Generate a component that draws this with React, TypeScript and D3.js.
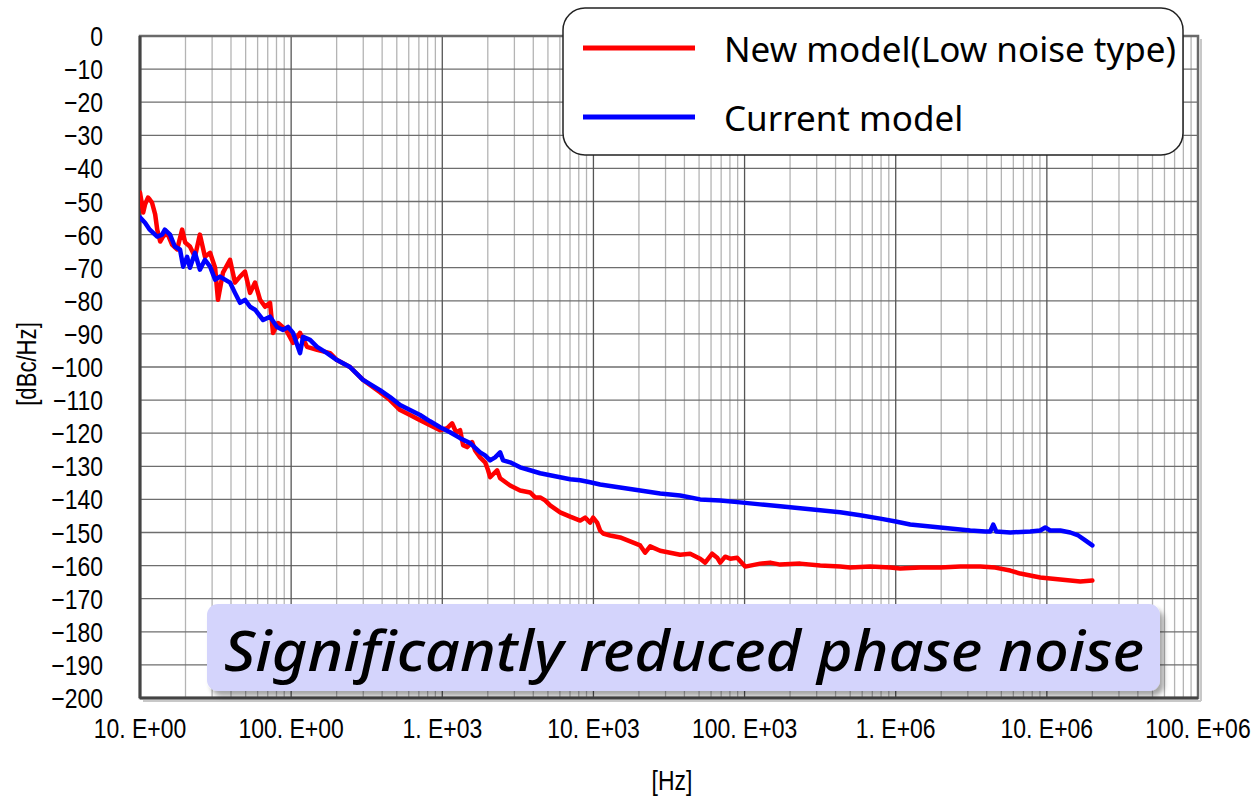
import React from 'react';
import * as d3 from 'd3';

// New model (Low noise type) - red trace
const newModelFreq = [
  10, 10.3, 10.5, 10.8, 11.3, 11.6, 12.0, 12.6, 13.0, 13.6, 14.2, 15.1, 16.3, 17.6, 19.0, 19.9,
  21.4, 23.1, 24.9, 26.9, 29.1, 31.4, 32.8, 35.4, 39.4, 42.5, 45.9, 49.5, 53.5, 57.7, 62.3, 67.2,
  72.5, 75.9, 81.9, 92.5, 103, 114.5, 127.4, 148.4, 180.9, 201, 245, 299, 387, 451,
  526, 612, 713, 830, 967, 1076, 1161, 1234, 1312, 1373, 1459, 1575, 1649, 1779, 1920, 2010,
  2072, 2169, 2306, 2413, 2810, 3272, 3812, 4114, 4440, 4791, 5170, 6020, 7015, 8170, 8815, 9510,
  9955, 10580, 11070, 11590, 12900, 15020, 17500, 20380, 21990, 23730, 27640, 32190, 37480, 43650,
  50840, 54870, 61060, 65890, 68970, 74400, 80300, 89330, 100900, 108900, 126800, 147700, 172000,
  233300, 316500, 429300, 500000, 678300, 919700, 1.071e6, 1.453e6, 1.97e6, 2.673e6, 3.625e6,
  4.555e6, 5.724e6, 6.668e6, 7.766e6, 9.045e6, 1.053e7, 1.227e7, 1.429e7, 1.664e7, 2e7,
];
const newModelDb = [
  -47.3, -50.9, -53.3, -50.9, -48.8, -49.4, -50.3, -53.9, -58.5, -62.1, -60.6, -59.4, -63.0, -64.5, -58.5, -62.4,
  -63.6, -66.7, -60.0, -66.7, -65.5, -70.0, -79.7, -71.5, -67.6, -74.5, -72.7, -71.2, -77.6, -74.5, -79.7, -81.8,
  -80.6, -89.7, -86.7, -88.8, -92.7, -89.7, -93.9, -94.8, -95.8, -97.9, -100, -103.9, -107.6, -110,
  -113, -114.5, -116.1, -117.6, -119.1, -118.5, -117, -119.7, -119.1, -123.6, -124.2, -122.7, -125.2, -127.3, -128.8, -131.2,
  -133.3, -132.4, -131.2, -133.6, -135.8, -137.3, -137.9, -139.4, -139.4, -140.3, -141.8, -143.9, -145.2, -146.4, -145.5, -147,
  -145.5, -147, -149.4, -150.3, -150.9, -151.5, -152.7, -153.9, -156.1, -154.2, -155.5, -156.1, -156.7, -156.4,
  -157.9, -159.1, -156.4, -157.6, -159.1, -157.3, -157.9, -157.6, -160.3, -160, -159.4, -159.1, -159.7,
  -159.4, -160, -160.3, -160.6, -160.3, -160.6, -160.9, -160.6, -160.6, -160.3, -160.3,
  -160.6, -161.5, -162.4, -163, -163.6, -163.9, -164.2, -164.5, -164.8, -164.5,
];

// Current model - blue trace
const currentModelFreq = [
  10, 10.8, 11.6, 13.0, 14.0, 14.6, 15.8, 17.0, 18.4, 19.3, 20.5, 21.4, 23.1, 24.9, 26.9, 29.1,
  31.4, 33.8, 36.5, 39.4, 42.5, 45.9, 49.5, 53.5, 57.7, 65.2, 72.5, 80.7, 88.4, 95.4, 103, 114.5,
  119.9, 133.4, 148.4, 172.8, 201, 245, 299, 387, 451, 526, 612, 713, 830, 967,
  1126, 1312, 1528, 1779, 1920, 2072, 2236, 2413, 2526, 2810, 3272, 3812, 4440, 5170, 6020, 7015,
  8170, 9510, 11070, 15020, 20380, 27640, 37480, 50840, 68970, 93520, 126800, 172000, 233300, 316500,
  429300, 582300, 789800, 1.0e6, 1.247e6, 1.692e6, 2.295e6, 3.112e6, 3.912e6, 4.222e6, 4.419e6, 4.627e6,
  5.724e6, 7.766e6, 9.045e6, 9.759e6, 1.053e7, 1.227e7, 1.429e7, 1.614e7, 1.796e7, 2e7,
];
const currentModelDb = [
  -54.8, -56.4, -58.5, -60.6, -60, -58.5, -60, -63.6, -64.5, -69.7, -66.7, -70, -65.5, -70.6, -67.6, -69.7,
  -73.6, -72.7, -73.6, -74.5, -77.6, -80.6, -79.7, -81.8, -82.7, -85.8, -84.8, -87.9, -88.8, -87.9, -89.7, -95.8,
  -90.9, -91.8, -93.9, -95.8, -97.9, -100, -103.9, -107, -109.1, -111.5, -113, -114.5, -116.4, -118.2,
  -119.7, -121.5, -123, -125.8, -126.7, -128.2, -127.3, -125.8, -128.2, -128.8, -130.3, -131.2, -132.1, -132.7, -133.3, -133.9,
  -134.2, -134.8, -135.5, -136.4, -137.3, -138.2, -138.8, -140, -140.3, -140.9, -141.5, -142.1, -142.7, -143.3,
  -143.9, -144.8, -145.8, -146.7, -147.6, -148.2, -148.8, -149.4, -149.7, -149.7, -147.6, -149.7,
  -150, -149.7, -149.4, -148.5, -149.4, -149.4, -150, -150.9, -152.4, -153.9,
];

const xTickValues = [1e1, 1e2, 1e3, 1e4, 1e5, 1e6, 1e7, 1e8];
const xTickLabels = ['10. E+00', '100. E+00', '1. E+03', '10. E+03', '100. E+03', '1. E+06', '10. E+06', '100. E+06'];
const yTickValues = d3.range(-200, 1, 10);

const seriesNames = ['New model(Low noise type)', 'Current model'];
const seriesColors = ['#ff0000', '#0000ff'];

const W = 1255, H = 797;
const margin = { top: 36, right: 57, bottom: 99, left: 140 };
const axisFont = "'Liberation Sans', Arial, sans-serif";
const labelFont = "'Noto Sans', 'Open Sans', sans-serif";

// narrow glyphs like the original gothic font: horizontally squeezed text
function Narrow({ x, y, anchor, size, rotate, children }: any) {
  const t = `translate(${x},${y})` + (rotate ? ` rotate(${rotate})` : '') + ' scale(0.82,1)';
  return (
    <text transform={t} textAnchor={anchor} fontFamily={axisFont} fontSize={size} fill="#000">
      {children}
    </text>
  );
}

export default function App() {
  const x = d3.scaleLog().domain([10, 1e8]).range([margin.left, W - margin.right]);
  const y = d3.scaleLinear().domain([-200, 0]).range([H - margin.bottom, margin.top]);
  const x0 = x.range()[0], x1 = x.range()[1];
  const y0 = y.range()[1], y1 = y.range()[0];

  const line = d3.line<[number, number]>()
    .x(d => x(d[0]))
    .y(d => y(d[1]));

  const redPts = newModelFreq.map((f, i) => [f, newModelDb[i]] as [number, number]);
  const bluePts = currentModelFreq.map((f, i) => [f, currentModelDb[i]] as [number, number]);

  const minorTicks = x.ticks().filter(t => !xTickValues.includes(t));

  return (
    <svg width={W} height={H} style={{ position: 'absolute', left: 0, top: 0, background: '#fff' }}>
      <defs>
        <filter id="shadow" x="-5%" y="-20%" width="115%" height="150%">
          <feDropShadow dx="4" dy="5" stdDeviation="2.5" floodColor="#000" floodOpacity="0.35" />
        </filter>
        <clipPath id="plotclip">
          <rect x={x0} y={y0} width={x1 - x0} height={y1 - y0} />
        </clipPath>
      </defs>

      {/* grid */}
      <g>
        {minorTicks.map(t => (
          <line key={'m' + t} x1={x(t)} x2={x(t)} y1={y0} y2={y1} stroke="#b4b4b4" strokeWidth={1.3} />
        ))}
        {yTickValues.map(v => (
          <line key={'h' + v} x1={x0} x2={x1} y1={y(v)} y2={y(v)} stroke="#6e6e6e" strokeWidth={1.3} />
        ))}
        {xTickValues.map(t => (
          <line key={'M' + t} x1={x(t)} x2={x(t)} y1={y0} y2={y1} stroke="#555" strokeWidth={1.3} />
        ))}
      </g>

      {/* frame with shadow */}
      <line x1={x0 + 3} x2={x1 + 3} y1={y1 + 3} y2={y1 + 3} stroke="#c8c8c8" strokeWidth={2} />
      <line x1={x1 + 3} x2={x1 + 3} y1={y0 + 3} y2={y1 + 3} stroke="#c8c8c8" strokeWidth={2} />
      <rect x={x0} y={y0} width={x1 - x0} height={y1 - y0} fill="none" stroke="#6a6a6a" strokeWidth={2.5} />
      <line x1={x0} x2={x1} y1={y1} y2={y1} stroke="#444" strokeWidth={3} />
      <line x1={x0} x2={x0} y1={y0} y2={y1} stroke="#444" strokeWidth={3} />

      {/* traces */}
      <g clipPath="url(#plotclip)" fill="none" strokeWidth={4.5} strokeLinejoin="round" strokeLinecap="round">
        <path d={line(redPts) || ''} stroke={seriesColors[0]} />
        <path d={line(bluePts) || ''} stroke={seriesColors[1]} />
      </g>

      {/* y tick labels */}
      {yTickValues.map(v => (
        <Narrow key={'yl' + v} x={103} y={y(v) + 10} anchor="end" size={28}>
          {v === 0 ? '0' : '\u2212' + Math.abs(v)}
        </Narrow>
      ))}

      {/* x tick labels */}
      {xTickValues.map((t, i) => (
        <Narrow key={'xl' + t} x={x(t)} y={738} anchor="middle" size={28}>{xTickLabels[i]}</Narrow>
      ))}

      {/* axis titles */}
      <Narrow x={672} y={790} anchor="middle" size={28}>[Hz]</Narrow>
      <Narrow x={36} y={364} anchor="middle" size={27} rotate={-90}>[dBc/Hz]</Narrow>

      {/* annotation */}
      <rect x={207} y={604} width={953} height={87} rx={11} fill="#d4d4fc" filter="url(#shadow)" />
      <text x={224} y={671} fontFamily={labelFont} fontStyle="italic" fontWeight={500} fontSize={57}
        textLength={920} lengthAdjust="spacingAndGlyphs" fill="#000">
        Significantly reduced phase noise
      </text>

      {/* legend */}
      <rect x={563} y={8} width={620} height={147} rx={22} fill="#fff" stroke="#222" strokeWidth={1.5} />
      {seriesNames.map((name, i) => (
        <g key={name}>
          <line x1={583} x2={695} y1={48 + i * 69} y2={48 + i * 69} stroke={seriesColors[i]} strokeWidth={5} />
          <text x={724} y={62 + i * 69} fontFamily={labelFont} fontSize={35} fill="#000">{name}</text>
        </g>
      ))}
    </svg>
  );
}
